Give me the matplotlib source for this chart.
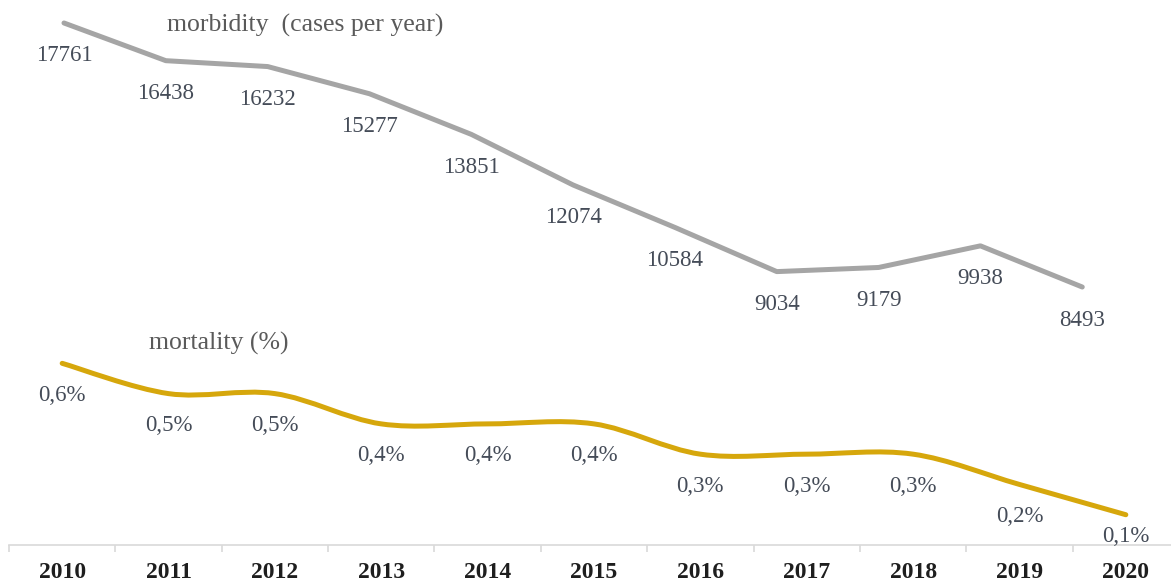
import numpy as np
import matplotlib
matplotlib.use("Agg")
import matplotlib.pyplot as plt
from matplotlib.path import Path
from matplotlib.patches import PathPatch

years = ["2010", "2011", "2012", "2013", "2014", "2015",
         "2016", "2017", "2018", "2019", "2020"]
morbidity = [17761, 16438, 16232, 15277, 13851, 12074,
             10584, 9034, 9179, 9938, 8493]
mortality = [0.6, 0.5, 0.5, 0.4, 0.4, 0.4, 0.3, 0.3, 0.3, 0.2, 0.1]

GRAY = "#a5a5a5"
GOLD = "#d6a70c"
LABEL = "#454c58"
FONT = "Liberation Serif"


def smooth_path(xs, ys):
    """Catmull-Rom style bezier through the points (like a spreadsheet smoothed line)."""
    pts = np.column_stack([xs, ys]).astype(float)
    verts = [pts[0]]
    codes = [Path.MOVETO]
    n = len(pts)
    for i in range(n - 1):
        p0 = pts[max(i - 1, 0)]
        p1 = pts[i]
        p2 = pts[i + 1]
        p3 = pts[min(i + 2, n - 1)]
        c1 = p1 + (p2 - p0) / 6.0
        c2 = p2 - (p3 - p1) / 6.0
        verts += [c1, c2, p2]
        codes += [Path.CURVE4] * 3
    return Path(verts, codes)


fig = plt.figure(figsize=(11.71, 5.83), dpi=100)
rect = [9 / 1171, 38 / 583, 1170 / 1171, 545 / 583]

# mortality axis carries the year axis
ax = fig.add_axes(rect)
x = np.arange(len(years))
ax.set_xlim(-0.5, 10.5)
ax.set_ylim(0, 1.80)
patch = PathPatch(smooth_path(x, mortality), facecolor="none",
                  edgecolor=GOLD, linewidth=3.6, capstyle="round",
                  joinstyle="round")
ax.add_patch(patch)
for i, v in enumerate(mortality):
    off = -22 if i == len(mortality) - 1 else -32
    ax.annotate(f"{v:.1f}%".replace(".", ","), (x[i], v),
                xytext=(0, off), textcoords="offset pixels",
                ha="center", va="center", fontsize=16.5,
                family=FONT, color=LABEL)
ax.text(1.47, 0.667, "mortality (%)", ha="center", va="center",
        fontsize=18.5, family=FONT, color="#5a5a5a")

for side in ["top", "left", "right"]:
    ax.spines[side].set_visible(False)
ax.spines["bottom"].set_color("#d9d9d9")
ax.spines["bottom"].set_linewidth(1.2)
ax.set_yticks([])
ax.set_xticks(x)
ax.set_xticklabels(years, family=FONT, fontsize=17, fontweight="bold",
                   color="#1e1e1e")
ax.set_xticks(np.arange(-0.5, 11, 1.0), minor=True)
ax.tick_params(axis="x", which="major", length=0, pad=12)
ax.tick_params(axis="x", which="minor", length=5, width=1.2,
               color="#d9d9d9", direction="out")
ax.patch.set_alpha(0)

# morbidity line sits on its own axes over the same area
ax2 = fig.add_axes(rect)
ax2.set_xlim(-0.54, 10.95)
ax2.set_ylim(-563, 18568)
ax2.plot(x, morbidity, color=GRAY, linewidth=3.6, solid_joinstyle="round",
         solid_capstyle="round")
for i, v in enumerate(morbidity):
    ax2.annotate(str(v), (x[i], v), xytext=(0, -33),
                 textcoords="offset pixels", ha="center", va="center",
                 fontsize=16.5, family=FONT, color=LABEL)
ax2.text(2.37, 17690, "morbidity  (cases per year)", ha="center",
         va="center", fontsize=18.5, family=FONT, color="#5a5a5a")
ax2.axis("off")

fig.savefig("out.png", dpi=100)
